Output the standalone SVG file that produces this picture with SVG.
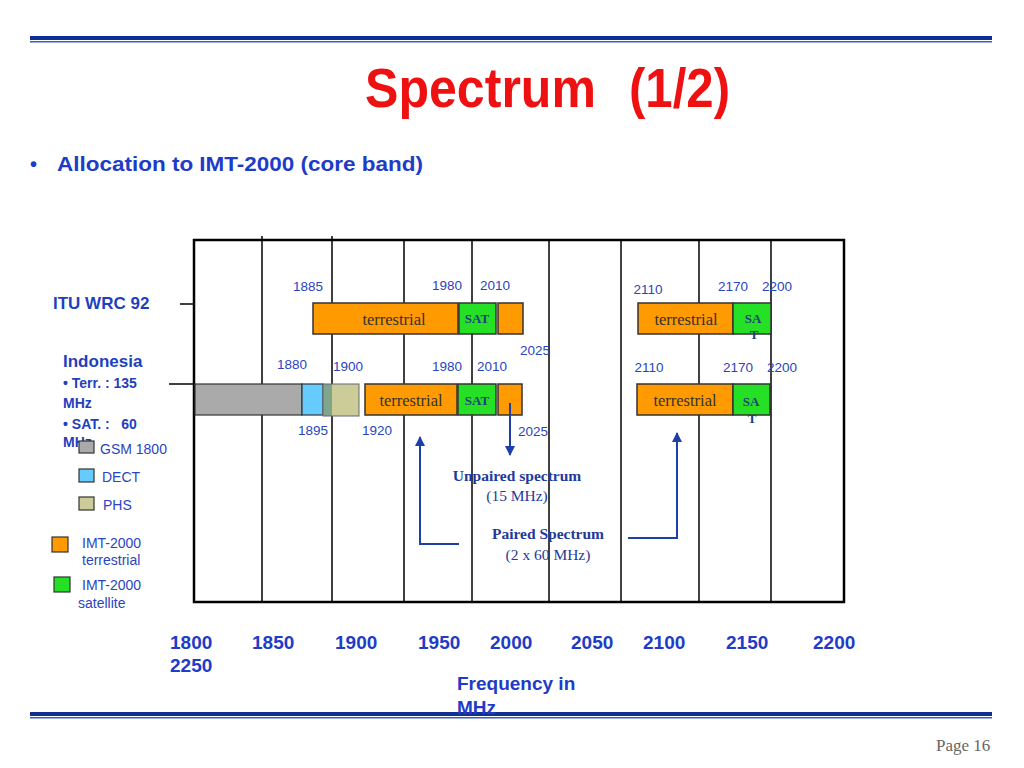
<svg xmlns="http://www.w3.org/2000/svg" width="1024" height="768" viewBox="0 0 1024 768">
<defs>
<marker id="ah" viewBox="0 0 10 10" refX="9" refY="5" markerWidth="5" markerHeight="5" orient="auto" markerUnits="strokeWidth">
<path d="M0,0 L10,5 L0,10 z" fill="#1f3fa8"/>
</marker>
<style>
.sans{font-family:"Liberation Sans",Arial,sans-serif}
.serif{font-family:"Liberation Serif","Times New Roman",serif}
.yr{font-family:"Liberation Sans",Arial,sans-serif;font-size:13.5px;fill:#2a45c0;text-anchor:middle}
.ax{font-family:"Liberation Sans",Arial,sans-serif;font-size:19px;font-weight:bold;fill:#1e3cc8}
.lg{font-family:"Liberation Sans",Arial,sans-serif;font-size:14px;fill:#2a45c0}
.terr{font-family:"Liberation Serif","Times New Roman",serif;font-size:16.5px;fill:#333;text-anchor:middle}
.sat{font-family:"Liberation Serif","Times New Roman",serif;font-size:13px;font-weight:bold;fill:#1d3f7a;text-anchor:middle}
.or{fill:#ff9a00;stroke:#333;stroke-width:1.5}
.gr{fill:#26e026;stroke:#333;stroke-width:1.5}
.grid{stroke:#000;stroke-width:1.5}
.arr{stroke:#1f3fa8;stroke-width:2;fill:none}
.note{font-family:"Liberation Serif","Times New Roman",serif;fill:#1f3a9a;text-anchor:middle}
.title{font-family:"Liberation Sans",Arial,sans-serif;font-size:55px;font-weight:bold;fill:#ee1111}
</style>
</defs>
<rect width="1024" height="768" fill="#fff"/>

<!-- header/footer rules -->
<rect x="30" y="36" width="962" height="4" fill="#102f96"/>
<line x1="30" y1="41.8" x2="992" y2="41.8" stroke="#3a5cc0" stroke-width="1.4"/>
<rect x="30" y="712" width="962" height="4" fill="#102f96"/>
<line x1="30" y1="717.8" x2="992" y2="717.8" stroke="#3a5cc0" stroke-width="1.4"/>

<text x="365" y="107" class="title" textLength="231" lengthAdjust="spacingAndGlyphs">Spectrum</text>
<text x="629" y="107" class="title" textLength="101" lengthAdjust="spacingAndGlyphs">(1/2)</text>
<text x="30" y="171" class="sans" font-size="20" font-weight="bold" fill="#1e3cc8">•</text>
<text x="57" y="171" class="sans" font-size="20" font-weight="bold" fill="#1e3cc8" textLength="366" lengthAdjust="spacingAndGlyphs">Allocation to IMT-2000 (core band)</text>

<!-- chart frame and grid -->
<g id="frame">
<rect x="194" y="240" width="650" height="362" fill="none" stroke="#000" stroke-width="2.5"/>
<line class="grid" x1="262" y1="236" x2="262" y2="602"/>
<line class="grid" x1="332" y1="236" x2="332" y2="602"/>
<line class="grid" x1="404" y1="240" x2="404" y2="602"/>
<line class="grid" x1="472" y1="240" x2="472" y2="602"/>
<line class="grid" x1="549" y1="240" x2="549" y2="602"/>
<line class="grid" x1="621" y1="240" x2="621" y2="602"/>
<line class="grid" x1="699" y1="240" x2="699" y2="602"/>
<line class="grid" x1="771" y1="240" x2="771" y2="602"/>
</g>

<!-- ITU WRC 92 row -->
<g id="itu-terr1"><rect class="or" x="313" y="303" width="145" height="31"/><text class="terr" x="394" y="325">terrestrial</text></g>
<g id="itu-sat1"><rect class="gr" x="459" y="303" width="37" height="31"/><text class="sat" x="477" y="323">SAT</text></g>
<g id="itu-terr2"><rect class="or" x="498" y="303" width="25" height="31"/></g>
<g id="itu-terr3"><rect class="or" x="638" y="303" width="95" height="31"/><text class="terr" x="686" y="325">terrestrial</text></g>
<g id="itu-sat2"><rect class="gr" x="733" y="303" width="38" height="31"/><text class="sat" x="753" y="323">SA</text><text class="sat" x="754" y="339">T</text></g>

<!-- Indonesia row -->
<g id="ind-gsm"><rect x="195" y="384" width="107" height="31" fill="#aaaaaa" stroke="#333" stroke-width="1.2"/></g>
<g id="ind-dect"><rect x="302" y="384" width="21" height="31" fill="#66ccff" stroke="#333" stroke-width="1.2"/></g>
<g id="ind-phs"><rect x="323" y="384" width="9" height="32" fill="#7fa58a"/><rect x="332" y="384" width="27" height="32" fill="#cccc99"/><rect x="323" y="384" width="36" height="32" fill="none" stroke="#667" stroke-width="1"/></g>
<g id="ind-terr1"><rect class="or" x="365" y="384" width="92" height="31"/><text class="terr" x="411" y="406">terrestrial</text></g>
<g id="ind-sat1"><rect class="gr" x="458" y="384" width="38" height="31"/><text class="sat" x="477" y="405">SAT</text></g>
<g id="ind-terr2"><rect class="or" x="498" y="384" width="24" height="31"/></g>
<g id="ind-terr3"><rect class="or" x="637" y="384" width="96" height="31"/><text class="terr" x="685" y="406">terrestrial</text></g>
<g id="ind-sat2"><rect class="gr" x="733" y="384" width="37" height="31"/><text class="sat" x="751" y="406">SA</text><text class="sat" x="752" y="423">T</text></g>

<!-- frequency labels in chart -->
<g id="freq-labels">
<text class="yr" x="308" y="291">1885</text>
<text class="yr" x="447" y="290">1980</text>
<text class="yr" x="495" y="290">2010</text>
<text class="yr" x="648" y="294">2110</text>
<text class="yr" x="733" y="291">2170</text>
<text class="yr" x="777" y="291">2200</text>
<text class="yr" x="535" y="355">2025</text>
<text class="yr" x="292" y="369">1880</text>
<text class="yr" x="348" y="371">1900</text>
<text class="yr" x="447" y="371">1980</text>
<text class="yr" x="492" y="371">2010</text>
<text class="yr" x="649" y="372">2110</text>
<text class="yr" x="738" y="372">2170</text>
<text class="yr" x="782" y="372">2200</text>
<text class="yr" x="313" y="435">1895</text>
<text class="yr" x="377" y="435">1920</text>
<text class="yr" x="533" y="436">2025</text>
</g>

<!-- row labels -->
<g id="itu-label"><text x="53" y="309" class="sans" font-size="17" font-weight="bold" fill="#1f3fc0">ITU WRC 92</text></g>
<g id="indonesia-label" class="sans" font-weight="bold" fill="#1f3fc0">
<text x="63" y="367" font-size="17">Indonesia</text>
<text x="63" y="388" font-size="14">• Terr. : 135</text>
<text x="63" y="408" font-size="14">MHz</text>
<text x="63" y="429" font-size="14" xml:space="preserve">• SAT. :   60</text>
<text x="63" y="447" font-size="14">MHz</text>
</g>

<!-- legend -->
<g id="legend-gsm"><rect x="79" y="441" width="15" height="12" fill="#aaaaaa" stroke="#333" stroke-width="1.2"/><text class="lg" x="100" y="454">GSM 1800</text></g>
<g id="legend-dect"><rect x="79" y="469" width="15" height="13" fill="#66ccff" stroke="#333" stroke-width="1.2"/><text class="lg" x="102" y="482">DECT</text></g>
<g id="legend-phs"><rect x="79" y="497" width="15" height="13" fill="#cccc99" stroke="#333" stroke-width="1.2"/><text class="lg" x="103" y="510">PHS</text></g>
<g id="legend-terr"><rect x="52" y="537" width="16" height="15" fill="#ff9a00" stroke="#333" stroke-width="1.2"/><text class="lg" x="82" y="548">IMT-2000</text><text class="lg" x="82" y="565">terrestrial</text></g>
<g id="legend-sat"><rect x="54" y="577" width="16" height="15" fill="#26e026" stroke="#333" stroke-width="1.2"/><text class="lg" x="82" y="590">IMT-2000</text><text class="lg" x="78" y="608">satellite</text></g>

<!-- annotations -->
<g id="unpaired-note">
<text class="note" x="517" y="481" font-size="15.5" font-weight="bold">Unpaired spectrum</text>
<text class="note" x="517" y="501" font-size="15.5">(15 MHz)</text>
</g>
<g id="paired-note">
<text class="note" x="548" y="539" font-size="15.5" font-weight="bold">Paired Spectrum</text>
<text class="note" x="548" y="560" font-size="15.5">(2 x 60 MHz)</text>
</g>

<!-- connectors -->
<g id="connectors">
<line x1="180" y1="304" x2="194" y2="304" stroke="#000" stroke-width="1.5"/>
<line x1="169" y1="384" x2="194" y2="384" stroke="#000" stroke-width="1.5"/>
<polyline class="arr" points="459,544 420,544 420,437" marker-end="url(#ah)"/>
<line class="arr" x1="510" y1="403" x2="510" y2="455" marker-end="url(#ah)"/>
<polyline class="arr" points="628,538 677,538 677,433" marker-end="url(#ah)"/>
</g>

<!-- axis -->
<g id="axis">
<text class="ax" x="170" y="649">1800</text>
<text class="ax" x="252" y="649">1850</text>
<text class="ax" x="335" y="649">1900</text>
<text class="ax" x="418" y="649">1950</text>
<text class="ax" x="490" y="649">2000</text>
<text class="ax" x="571" y="649">2050</text>
<text class="ax" x="643" y="649">2100</text>
<text class="ax" x="726" y="649">2150</text>
<text class="ax" x="813" y="649">2200</text>
<text class="ax" x="170" y="672">2250</text>
<text class="ax" x="457" y="690">Frequency in</text>
<text class="ax" x="457" y="714">MHz</text>
</g>

<text x="936" y="751" class="serif" font-size="17" fill="#666">Page 16</text>
</svg>
